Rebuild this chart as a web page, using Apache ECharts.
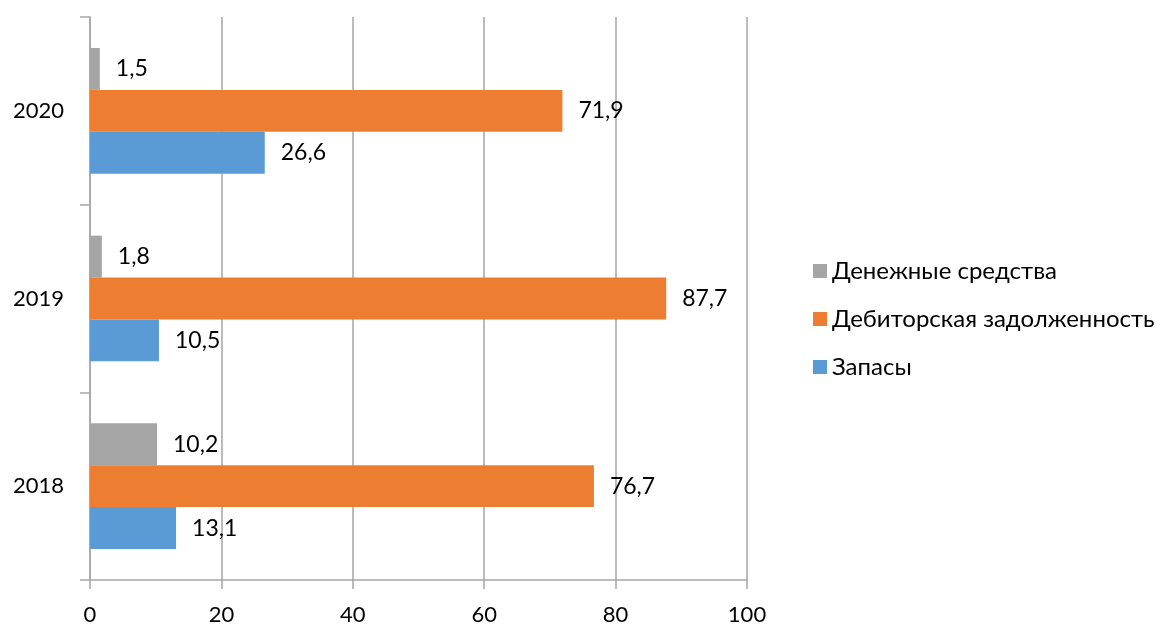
<!DOCTYPE html>
<html><head><meta charset="utf-8">
<script src="https://cdn.jsdelivr.net/npm/echarts@6/dist/echarts.min.js"></script>
<style>html,body{margin:0;padding:0;background:#fff}#c{width:1160px;height:626px}</style>
</head><body><div id="c"></div>
<script>
const categories = ['2018', '2019', '2020'];
const zapasy = [13.1, 10.5, 26.6];
const debitor = [76.7, 87.7, 71.9];
const dengi = [10.2, 1.8, 1.5];
const xTicks = [0, 20, 40, 60, 80, 100];
const names = ['Денежные средства', 'Дебиторская задолженность', 'Запасы'];
const colors = ['#A5A5A5', '#ED7D31', '#5B9BD5'];
const F = 'Lato, "Noto Sans", sans-serif';
const lbl = {show: true, position: 'right', distance: 16, color: '#000', fontSize: 23, fontFamily: F,
  formatter: p => String(p.value).replace('.', ',')};
const chart = echarts.init(document.getElementById('c'));
chart.setOption({
  animation: false,
  grid: {left: 90, right: 413, top: 17, bottom: 44, containLabel: false},
  legend: {orient: 'vertical', left: 808, top: 254, itemWidth: 14, itemHeight: 14, itemGap: 24, icon: 'rect',
    data: names,
    textStyle: {fontSize: 24, fontFamily: F, color: '#000'}},
  xAxis: {type: 'value', min: xTicks[0], max: xTicks[xTicks.length-1], interval: 20,
    axisLine: {show: true, lineStyle: {color: '#A6A6A6', width: 1.5}},
    axisTick: {show: true, length: 9, lineStyle: {color: '#A6A6A6', width: 1.5}},
    axisLabel: {fontSize: 22, fontFamily: F, color: '#000', margin: 24},
    splitLine: {show: true, lineStyle: {color: '#A6A6A6', width: 1.5}}},
  yAxis: {type: 'category', data: categories,
    axisLine: {show: true, lineStyle: {color: '#A6A6A6', width: 1.5}},
    axisTick: {show: true, length: 10, lineStyle: {color: '#A6A6A6', width: 1.5}},
    axisLabel: {fontSize: 22, fontFamily: F, color: '#000', margin: 26}},
  series: [
    {name: names[0], type: 'bar', data: dengi, itemStyle: {color: colors[0]}, label: lbl, barGap: '0%', barCategoryGap: '33%'},
    {name: names[1], type: 'bar', data: debitor, itemStyle: {color: colors[1]}, label: lbl, barGap: '0%', barCategoryGap: '33%'},
    {name: names[2], type: 'bar', data: zapasy, itemStyle: {color: colors[2]}, label: lbl, barGap: '0%', barCategoryGap: '33%'}
  ]
});
</script></body></html>
